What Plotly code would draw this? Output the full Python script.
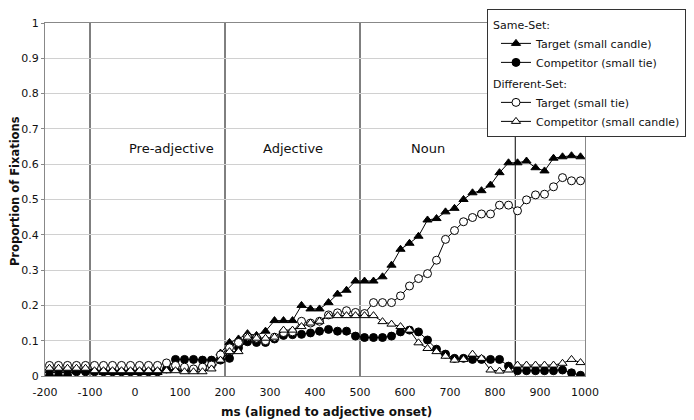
import plotly.graph_objects as go

ms = list(range(-190, 1000, 20))

same_target = [0.015, 0.015, 0.015, 0.015, 0.015, 0.015, 0.01, 0.01, 0.01, 0.01, 0.01, 0.01, 0.01, 0.015,
               0.02, 0.02, 0.02, 0.025, 0.035, 0.065, 0.095, 0.105, 0.12, 0.115,
               0.127, 0.157, 0.157, 0.157, 0.2, 0.19, 0.19, 0.208, 0.232, 0.243,
               0.269, 0.269, 0.269, 0.281, 0.314, 0.359, 0.376, 0.396, 0.442, 0.446,
               0.465, 0.475, 0.50, 0.519, 0.525, 0.541, 0.576, 0.604, 0.604, 0.609,
               0.59, 0.581, 0.617, 0.621, 0.624, 0.621]

same_competitor = [0.0, 0.0, 0.0, 0.012, 0.012, 0.012, 0.012, 0.012, 0.012, 0.012, 0.012, 0.012, 0.012, 0.02,
                   0.047, 0.047, 0.047, 0.045, 0.045, 0.045, 0.05, 0.08, 0.097, 0.095,
                   0.095, 0.105, 0.115, 0.117, 0.118, 0.122, 0.127, 0.132, 0.127, 0.127,
                   0.113, 0.109, 0.109, 0.109, 0.113, 0.125, 0.13, 0.125, 0.102, 0.076,
                   0.062, 0.05, 0.05, 0.047, 0.047, 0.047, 0.047, 0.028, 0.015, 0.015,
                   0.015, 0.015, 0.015, 0.017, 0.009, 0.002]

diff_target = [0.03, 0.03, 0.03, 0.03, 0.03, 0.03, 0.03, 0.03, 0.03, 0.03, 0.03, 0.03, 0.03, 0.037,
               0.03, 0.025, 0.02, 0.025, 0.031, 0.06, 0.08, 0.095, 0.111, 0.107,
               0.1, 0.11, 0.123, 0.125, 0.155, 0.15, 0.155, 0.173, 0.179, 0.185,
               0.18, 0.177, 0.208, 0.208, 0.208, 0.227, 0.255, 0.276, 0.29, 0.328,
               0.387, 0.412, 0.437, 0.449, 0.459, 0.459, 0.484, 0.484, 0.468, 0.499,
               0.513, 0.515, 0.536, 0.562, 0.553, 0.553]

diff_competitor = [0.022, 0.022, 0.022, 0.022, 0.022, 0.015, 0.015, 0.015, 0.015, 0.015, 0.015, 0.015, 0.015, 0.015,
                   0.015, 0.012, 0.012, 0.012, 0.02, 0.045, 0.069, 0.069, 0.11, 0.107,
                   0.107, 0.11, 0.13, 0.13, 0.14, 0.15, 0.155, 0.17, 0.171, 0.171,
                   0.171, 0.171, 0.171, 0.154, 0.147, 0.14, 0.13, 0.094, 0.078, 0.069,
                   0.056, 0.045, 0.047, 0.062, 0.05, 0.017, 0.014, 0.017, 0.031, 0.031,
                   0.031, 0.031, 0.031, 0.036, 0.047, 0.038]

x_ticks = list(range(-200, 1001, 100))
x_tick_text = [str(v) for v in x_ticks]
y_ticks = [round(v * 0.1, 1) for v in range(11)]
y_tick_text = ["0"] + [f"{v:g}" for v in y_ticks[1:]]

region_bounds = [-100, 200, 500, 845]
region_labels = ["Pre-adjective", "Adjective", "Noun"]
region_label_x = [80, 350, 650]
region_label_y = 0.645

x_title = "ms (aligned to adjective onset)"
y_title = "Proportion of Fixations"

FONT = "DejaVu Sans"
TXT = "#111"

fig = go.Figure()

series = [
    ("Target (small candle)", same_target, "triangle-up", "black", "same", "Same-Set:"),
    ("Competitor (small tie)", same_competitor, "circle", "black", "same", None),
    ("Target (small tie)", diff_target, "circle", "white", "diff", "Different-Set:"),
    ("Competitor (small candle)", diff_competitor, "triangle-up", "white", "diff", None),
]
for name, vals, sym, fill, grp, gtitle in series:
    kw = {}
    if gtitle:
        kw["legendgrouptitle"] = dict(text=gtitle, font=dict(family=FONT, size=11, color=TXT))
    fig.add_trace(go.Scatter(
        x=ms, y=vals, name=name, mode="lines+markers", legendgroup=grp,
        line=dict(color="black", width=1),
        marker=dict(symbol=sym, size=8, color=fill, line=dict(color="black", width=1)),
        **kw))

for b in region_bounds:
    fig.add_shape(type="line", x0=b, x1=b, y0=0, y1=1, xref="x", yref="y",
                  line=dict(color="black", width=1), layer="below")

for t, xx in zip(region_labels, region_label_x):
    fig.add_annotation(x=xx, y=region_label_y, text=t, showarrow=False,
                       font=dict(family=FONT, size=13, color=TXT))

# axis titles
fig.add_annotation(x=0.522, y=-0.102, xref="paper", yref="paper", text=f"<b>{x_title}</b>",
                   showarrow=False, xanchor="center", yanchor="middle",
                   font=dict(family=FONT, size=12, color=TXT))
fig.add_annotation(x=-0.0555, y=0.524, xref="paper", yref="paper", text=f"<b>{y_title}</b>",
                   showarrow=False, xanchor="center", yanchor="middle", textangle=-90,
                   font=dict(family=FONT, size=11.5, color=TXT))

# page body has an 8px margin, so the figure is sized/offset to compensate
fig.update_layout(
    width=686, height=412,
    margin=dict(l=37, r=109, t=15, b=44, autoexpand=False),
    paper_bgcolor="white", plot_bgcolor="white",
    font=dict(family=FONT, size=11, color=TXT),
    showlegend=True,
    legend=dict(x=0.8185, y=1.04, xanchor="left", yanchor="top",
                bgcolor="white", bordercolor="#333", borderwidth=1,
                font=dict(family=FONT, size=11, color=TXT),
                tracegroupgap=2, itemwidth=30, indentation=8),
)
fig.update_xaxes(range=[-200, 1000], tickvals=x_ticks, ticktext=x_tick_text, showgrid=False,
                 showline=True, linecolor="#888", linewidth=1, mirror=True,
                 ticks="", automargin=False, ticklabelstandoff=6,
                 tickfont=dict(family=FONT, size=11, color=TXT),
                 zeroline=False)
fig.update_yaxes(range=[0, 1], tickvals=y_ticks, ticktext=y_tick_text,
                 showgrid=True, gridcolor="#d0d0d0", gridwidth=1,
                 showline=True, linecolor="#888", linewidth=1, mirror=True,
                 ticks="outside", ticklen=3, tickcolor="#888", automargin=False,
                 tickfont=dict(family=FONT, size=11, color=TXT),
                 zeroline=False)

fig.write_html("out.html")
